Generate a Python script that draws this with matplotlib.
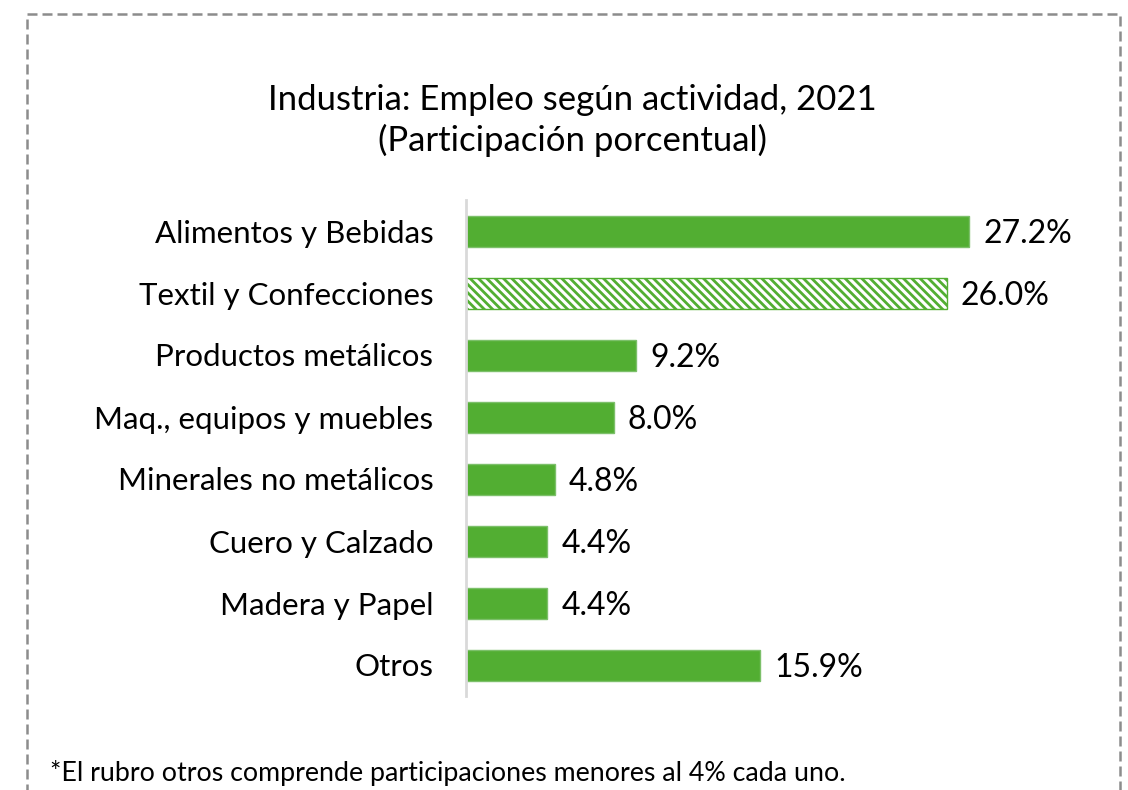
import matplotlib.pyplot as plt
from matplotlib.patches import Rectangle

plt.rcParams['font.family'] = ['Lato', 'DejaVu Sans']
plt.rcParams['hatch.linewidth'] = 2.0

categorias = ["Alimentos y Bebidas", "Textil y Confecciones", "Productos metálicos",
              "Maq., equipos y muebles", "Minerales no metálicos", "Cuero y Calzado",
              "Madera y Papel", "Otros"]
valores = [27.2, 26.0, 9.2, 8.0, 4.8, 4.4, 4.4, 15.9]
etiquetas = ["27.2%", "26.0%", "9.2%", "8.0%", "4.8%", "4.4%", "4.4%", "15.9%"]

verde = "#52AE32"
W, H = 1128, 790

fig = plt.figure(figsize=(W / 100, H / 100), dpi=100)

# dashed frame around the whole chart
frame = Rectangle((27 / W, -0.05), (1120 - 27) / W, 1.05 - 14 / H,
                  transform=fig.transFigure, fill=False, edgecolor="#8c8c8c",
                  linestyle=(0, (4, 2)), linewidth=1.8)
fig.patches.append(frame)

ax = fig.add_axes([466 / W, 1 - 696 / H, 610 / W, 496 / H])
y = list(range(len(categorias)))
bars = ax.barh(y, valores, height=0.5, color=verde, edgecolor="#7cc06a", linewidth=1)
# textile bar is hatched
bars[1].set_facecolor("white")
bars[1].set_hatch("\\\\\\\\")
bars[1].set_edgecolor(verde)

for yi, v, t in zip(y, valores, etiquetas):
    ax.text(v + 0.75, yi + 0.05, t, va="center", ha="left", fontsize=23, color="black")

ax.set_ylim(len(categorias) - 0.5, -0.5)
ax.set_xlim(0, 610 / 18.5)
ax.set_yticks(y)
ax.set_yticklabels(categorias, fontsize=22.5)
ax.tick_params(axis="y", length=0, pad=23.5)
ax.set_xticks([])
for s in ["top", "right", "bottom"]:
    ax.spines[s].set_visible(False)
ax.spines["left"].set_color("#d9d9d9")
ax.spines["left"].set_linewidth(2)

fig.text(572 / W, 1 - 100 / H, "Industria: Empleo según actividad, 2021",
         ha="center", va="center", fontsize=25, color="black")
fig.text(572 / W, 1 - 140 / H, "(Participación porcentual)",
         ha="center", va="center", fontsize=25, color="black")
fig.text(50 / W, 1 - 773 / H, "*El rubro otros comprende participaciones menores al 4% cada uno.",
         ha="left", va="center", fontsize=19.3, color="black")

fig.savefig("out.png", dpi=100)
